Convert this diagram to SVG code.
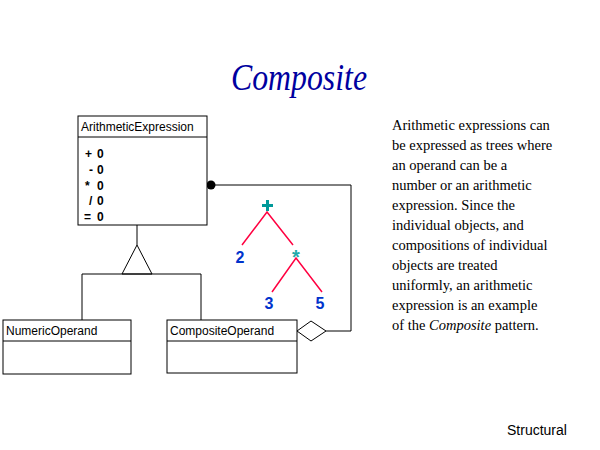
<svg xmlns="http://www.w3.org/2000/svg" width="600" height="450" viewBox="0 0 600 450">
<style>
.box{fill:#fff;stroke:#000;stroke-width:1}
.ln{fill:none;stroke:#000;stroke-width:1}
.cls{font-family:"Liberation Sans",Arial,sans-serif;font-size:12px;fill:#000}
.op{font-family:"Liberation Sans",Arial,sans-serif;font-size:12px;font-weight:bold;fill:#000}
.tree{fill:none;stroke:#ff0040;stroke-width:1.5}
.num{font-family:"Liberation Sans",Arial,sans-serif;font-size:16px;font-weight:bold;fill:#0033cc;text-anchor:middle}
.body{font-family:"Liberation Serif","Times New Roman",serif;font-size:14.5px;fill:#000}
.title{font-family:"Liberation Serif",serif;font-style:italic;font-weight:normal;font-size:38px;fill:#0000a0;text-anchor:middle}
</style>
<rect width="600" height="450" fill="#fff"/>
<text class="title" x="299" y="90" textLength="136" lengthAdjust="spacingAndGlyphs">Composite</text>

<g id="connectors">
  <line class="ln" x1="137" y1="225" x2="137" y2="245"/>
  <polygon class="box" points="137,245 122,274 152,274"/>
  <polyline class="ln" points="82,320 82,274 201,274 201,320"/>
  <polyline class="ln" points="326,331 351,331 351,185 211,185"/>
  <circle cx="211" cy="185" r="4.5" fill="#000"/>
  <polygon class="box" points="297,331 311,321 326,331 311,341"/>
</g>

<g id="ArithmeticExpression">
  <rect class="box" x="78" y="116" width="129" height="109"/>
  <line class="ln" x1="78" y1="137" x2="207" y2="137"/>
  <text class="cls" x="81" y="131">ArithmeticExpression</text>
  <text class="op" x="85" y="158">+</text><text class="op" x="97" y="158">0</text>
  <text class="op" x="89" y="174">-</text><text class="op" x="97" y="174">0</text>
  <text class="op" x="85" y="190">*</text><text class="op" x="97" y="190">0</text>
  <text class="op" x="89" y="205">/</text><text class="op" x="97" y="205">0</text>
  <text class="op" x="84" y="221">=</text><text class="op" x="97" y="221">0</text>
</g>

<g id="NumericOperand">
  <rect class="box" x="3" y="320" width="128" height="54"/>
  <line class="ln" x1="3" y1="341" x2="131" y2="341"/>
  <text class="cls" x="6" y="335">NumericOperand</text>
</g>

<g id="CompositeOperand">
  <rect class="box" x="167" y="320" width="130" height="53"/>
  <line class="ln" x1="167" y1="341" x2="297" y2="341"/>
  <text class="cls" x="170" y="335">CompositeOperand</text>
</g>

<g id="tree">
  <polyline class="tree" points="242,245 267,212 293,245"/>
  <polyline class="tree" points="272,292 296,258 322,292"/>
  <rect x="266" y="200" width="3" height="11" fill="#009999"/>
  <rect x="262" y="204" width="11" height="3" fill="#009999"/>
  <text x="296" y="264" font-family="'Liberation Sans',Arial,sans-serif" font-size="20" font-weight="bold" fill="#22aaaa" text-anchor="middle">*</text>
  <text class="num" x="240" y="263">2</text>
  <text class="num" x="269" y="309">3</text>
  <text class="num" x="320" y="309">5</text>
</g>

<g id="description" class="body">
  <text x="392" y="130">Arithmetic expressions can</text>
  <text x="392" y="150">be expressed as trees where</text>
  <text x="392" y="170">an operand can be a</text>
  <text x="392" y="190">number or an arithmetic</text>
  <text x="392" y="210">expression.  Since the</text>
  <text x="392" y="230">individual objects, and</text>
  <text x="392" y="250">compositions of individual</text>
  <text x="392" y="270">objects are treated</text>
  <text x="392" y="290">uniformly, an arithmetic</text>
  <text x="392" y="310">expression is  an example</text>
  <text x="392" y="330">of the <tspan font-style="italic">Composite</tspan> pattern.</text>
</g>

<text x="507" y="435" font-family="'Liberation Sans',Arial,sans-serif" font-size="14" fill="#000">Structural</text>
</svg>
